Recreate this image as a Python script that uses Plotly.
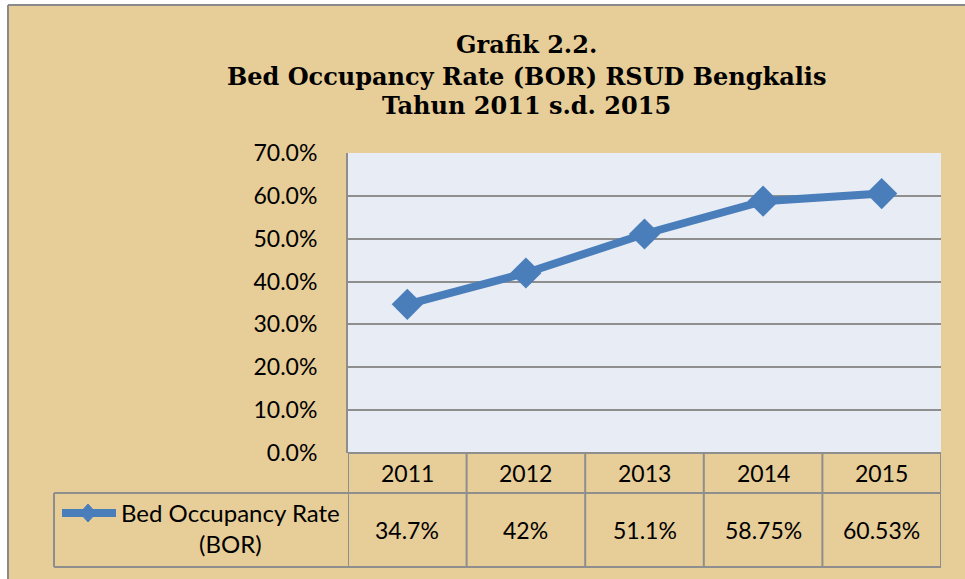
import plotly.graph_objects as go

years = ["2011", "2012", "2013", "2014", "2015"]
bor = [34.7, 42.0, 51.1, 58.75, 60.53]
bor_labels = ["34.7%", "42%", "51.1%", "58.75%", "60.53%"]
y_ticks = [0, 10, 20, 30, 40, 50, 60, 70]
y_tick_text = ["0.0%", "10.0%", "20.0%", "30.0%", "40.0%", "50.0%", "60.0%", "70.0%"]
series_name = "Bed Occupancy Rate<br>(BOR)"
title_lines = ["Grafik 2.2.", "Bed Occupancy Rate (BOR) RSUD Bengkalis", "Tahun 2011 s.d. 2015"]

W, H = 965, 579
L, R, T, B = 348, 941, 153, 453
PW, PH = R - L, B - T

def px(x):
    return (x - L) / PW

def py(y):
    return (B - y) / PH

BLUE = "#4a7ebb"
GRID = "#8e8e8e"
TAN = "#e7cd97"
FONT = "Lato"

fig = go.Figure()
fig.add_trace(go.Scatter(
    x=years, y=bor, mode="lines+markers",
    line=dict(color=BLUE, width=8),
    marker=dict(symbol="diamond", size=24, color=BLUE),
    showlegend=False, hoverinfo="skip",
))

shapes = []
# white margins outside outer frame
shapes.append(dict(type="rect", xref="paper", yref="paper", x0=px(-10), x1=px(8), y0=py(600), y1=py(-10),
                   fillcolor="white", line=dict(width=0), layer="below"))
shapes.append(dict(type="rect", xref="paper", yref="paper", x0=px(-10), x1=px(1000), y0=py(5), y1=py(-10),
                   fillcolor="white", line=dict(width=0), layer="below"))
# outer frame lines
shapes.append(dict(type="line", xref="paper", yref="paper", x0=px(8), x1=px(8), y0=py(5), y1=py(600),
                   line=dict(color="#8a8a8a", width=2)))
shapes.append(dict(type="line", xref="paper", yref="paper", x0=px(8), x1=px(1000), y0=py(5), y1=py(5),
                   line=dict(color="#8a8a8a", width=2)))

# data table grid
row1, row2 = 493, 567
for i in range(len(years) + 1):
    shapes.append(dict(type="line", xref="x", yref="paper", x0=i - 0.5, x1=i - 0.5, y0=py(B), y1=py(row2),
                       line=dict(color=GRID, width=2)))
shapes.append(dict(type="line", xref="paper", yref="paper", x0=px(54), x1=1, y0=py(row1), y1=py(row1),
                   line=dict(color=GRID, width=2)))
shapes.append(dict(type="line", xref="paper", yref="paper", x0=px(54), x1=1, y0=py(row2), y1=py(row2),
                   line=dict(color=GRID, width=2)))
shapes.append(dict(type="line", xref="paper", yref="paper", x0=px(54), x1=px(54), y0=py(row1), y1=py(row2),
                   line=dict(color=GRID, width=2)))
shapes.append(dict(type="line", xref="paper", yref="paper", x0=0, x1=1, y0=0, y1=0,
                   line=dict(color=GRID, width=2)))

# legend key in table
ky = 513
shapes.append(dict(type="line", xref="paper", yref="paper", x0=px(62), x1=px(116), y0=py(ky), y1=py(ky),
                   line=dict(color=BLUE, width=8)))
cx, dx, dy = 88, 8, 9
path = "M {} {} L {} {} L {} {} L {} {} Z".format(
    px(cx - dx), py(ky), px(cx), py(ky - dy), px(cx + dx), py(ky), px(cx), py(ky + dy))
shapes.append(dict(type="path", xref="paper", yref="paper", path=path,
                   fillcolor=BLUE, line=dict(color=BLUE, width=1)))

annotations = []
title_y = [45, 76, 106]
for txt, ty in zip(title_lines, title_y):
    annotations.append(dict(text="<b>" + txt + "</b>", xref="paper", yref="paper", x=px(526), y=py(ty),
                            xanchor="center", yanchor="middle", showarrow=False,
                            font=dict(family="DejaVu Serif", size=24, color="black")))
for i, (yr, lab) in enumerate(zip(years, bor_labels)):
    annotations.append(dict(text=yr, xref="x", yref="paper", x=i, y=py(473),
                            xanchor="center", yanchor="middle", showarrow=False,
                            font=dict(family=FONT, size=23, color="black")))
    annotations.append(dict(text=lab, xref="x", yref="paper", x=i, y=py(530),
                            xanchor="center", yanchor="middle", showarrow=False,
                            font=dict(family=FONT, size=23, color="black")))
annotations.append(dict(text=series_name, xref="paper", yref="paper", x=px(230), y=py(528),
                        xanchor="center", yanchor="middle", showarrow=False, align="center",
                        font=dict(family=FONT, size=24, color="black")))

fig.update_layout(
    width=W, height=H,
    margin=dict(l=L, r=W - R, t=T, b=H - B, pad=0),
    paper_bgcolor=TAN,
    plot_bgcolor="#e8ecf5",
    shapes=shapes,
    annotations=annotations,
    font=dict(family=FONT, size=23, color="black"),
    xaxis=dict(type="category", range=[-0.5, 4.5], showticklabels=False, showgrid=False,
               zeroline=False, showline=False, ticks="", fixedrange=True),
    yaxis=dict(range=[0, 70], tickvals=y_ticks, ticktext=y_tick_text, showgrid=True,
               gridcolor=GRID, gridwidth=2, zeroline=False, showline=True, linecolor=GRID,
               linewidth=2, ticks="", ticklabelstandoff=24,
               tickfont=dict(family=FONT, size=23, color="black"), fixedrange=True),
)

fig.write_html("out.html", config={"displayModeBar": False},
               post_script="document.body.style.margin='0';document.body.style.overflow='hidden';")
